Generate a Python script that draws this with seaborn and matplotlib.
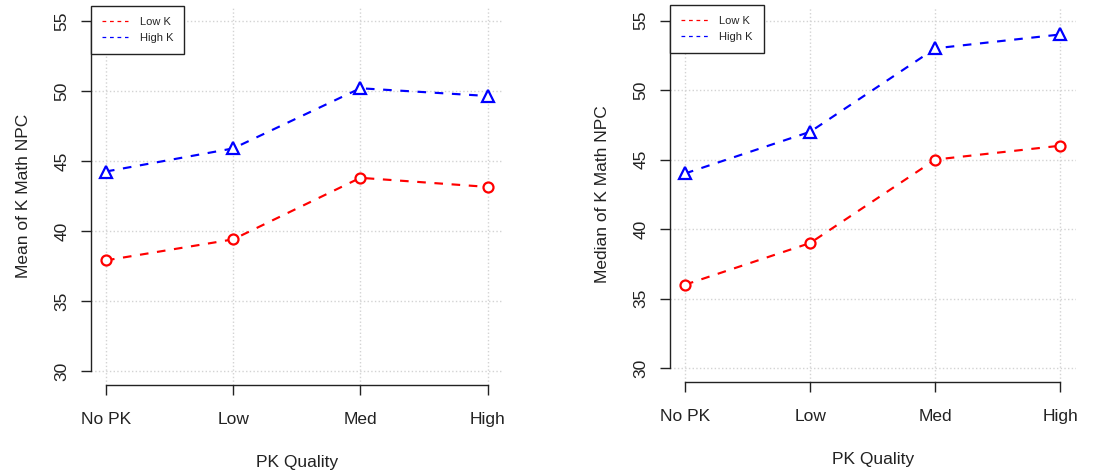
import numpy as np
import pandas as pd
import matplotlib.pyplot as plt
import seaborn as sns
from matplotlib.lines import Line2D

# PK quality levels and the two kindergarten groups
pk_levels = ['No PK', 'Low', 'Med', 'High']
groups = ['Low K', 'High K']

# values
mean_low_k = [37.9, 39.4, 43.8, 43.15]
mean_high_k = [44.25, 45.9, 50.2, 49.65]
median_low_k = [36, 39, 45, 46]
median_high_k = [44, 47, 53, 54]

colors = {'Low K': 'red', 'High K': 'blue'}
markers = {'Low K': 'o', 'High K': '^'}


def long_df(low, high):
    return pd.DataFrame({
        'pk': pd.Categorical(pk_levels * 2, categories=pk_levels, ordered=True),
        'group': ['Low K'] * len(low) + ['High K'] * len(high),
        'npc': low + high,
    })


sns.set_theme(style='white')
plt.rcParams['font.family'] = ['Liberation Sans', 'DejaVu Sans']


def draw(ax, df, ylabel):
    sns.lineplot(data=df, x='pk', y='npc', hue='group', style='group',
                 hue_order=groups, style_order=groups, palette=colors,
                 markers=markers, dashes={'Low K': (4, 4), 'High K': (4, 4)},
                 linewidth=1.55, markersize=7.2, sort=False, legend=False,
                 ax=ax, zorder=3)
    for line in ax.lines:
        line.set_markerfacecolor('white')
        line.set_markeredgecolor(line.get_color())
        line.set_markeredgewidth(1.6)
        if line.get_marker() == '^':
            line.set_markersize(9.2)

    ax.set_xlim(-0.12, 3.12)
    ax.set_ylim(29, 56)
    ax.set_xticks(range(len(pk_levels)))
    ax.set_xticklabels(pk_levels)
    ax.set_yticks(range(30, 56, 5))
    ax.grid(True, color='lightgray', linestyle=':', linewidth=1)
    ax.set_axisbelow(True)

    for side in ['top', 'right']:
        ax.spines[side].set_visible(False)
    ax.spines['left'].set_bounds(30, 55)
    ax.spines['bottom'].set_bounds(0, 3)
    for side in ['left', 'bottom']:
        ax.spines[side].set_color('#222222')
        ax.spines[side].set_linewidth(1)

    ax.tick_params(axis='both', direction='out', length=7, width=1,
                   color='#222222', labelsize=12.5, labelcolor='#222222',
                   left=True, bottom=True)
    ax.tick_params(axis='x', pad=12.5)
    ax.tick_params(axis='y', pad=8.5)
    for lab in ax.get_yticklabels():
        lab.set_rotation(90)
        lab.set_va('center')

    ax.set_xlabel('PK Quality', fontsize=12.5, color='#222222', labelpad=20)
    ax.set_ylabel(ylabel, fontsize=12.5, color='#222222', labelpad=17)

    handles = [Line2D([], [], color=colors[g], linestyle=(0, (3, 3)), lw=0.9)
               for g in groups]
    leg = ax.legend(handles, groups, loc='upper left', bbox_to_anchor=(0, 1.004),
                    borderaxespad=0, fancybox=False, edgecolor='#222222',
                    framealpha=1, fontsize=8, handlelength=2.4,
                    handletextpad=1.0, borderpad=1.0, labelspacing=0.55)
    leg.get_frame().set_linewidth(1)


fig = plt.figure(figsize=(10.93, 4.74), dpi=100)
ax1 = fig.add_axes([0.083, 0.188, 0.377, 0.797])
ax2 = fig.add_axes([0.613, 0.194, 0.371, 0.792])

draw(ax1, long_df(mean_low_k, mean_high_k), 'Mean of K Math NPC')
draw(ax2, long_df(median_low_k, median_high_k), 'Median of K Math NPC')

plt.savefig('out.png', dpi=100)
